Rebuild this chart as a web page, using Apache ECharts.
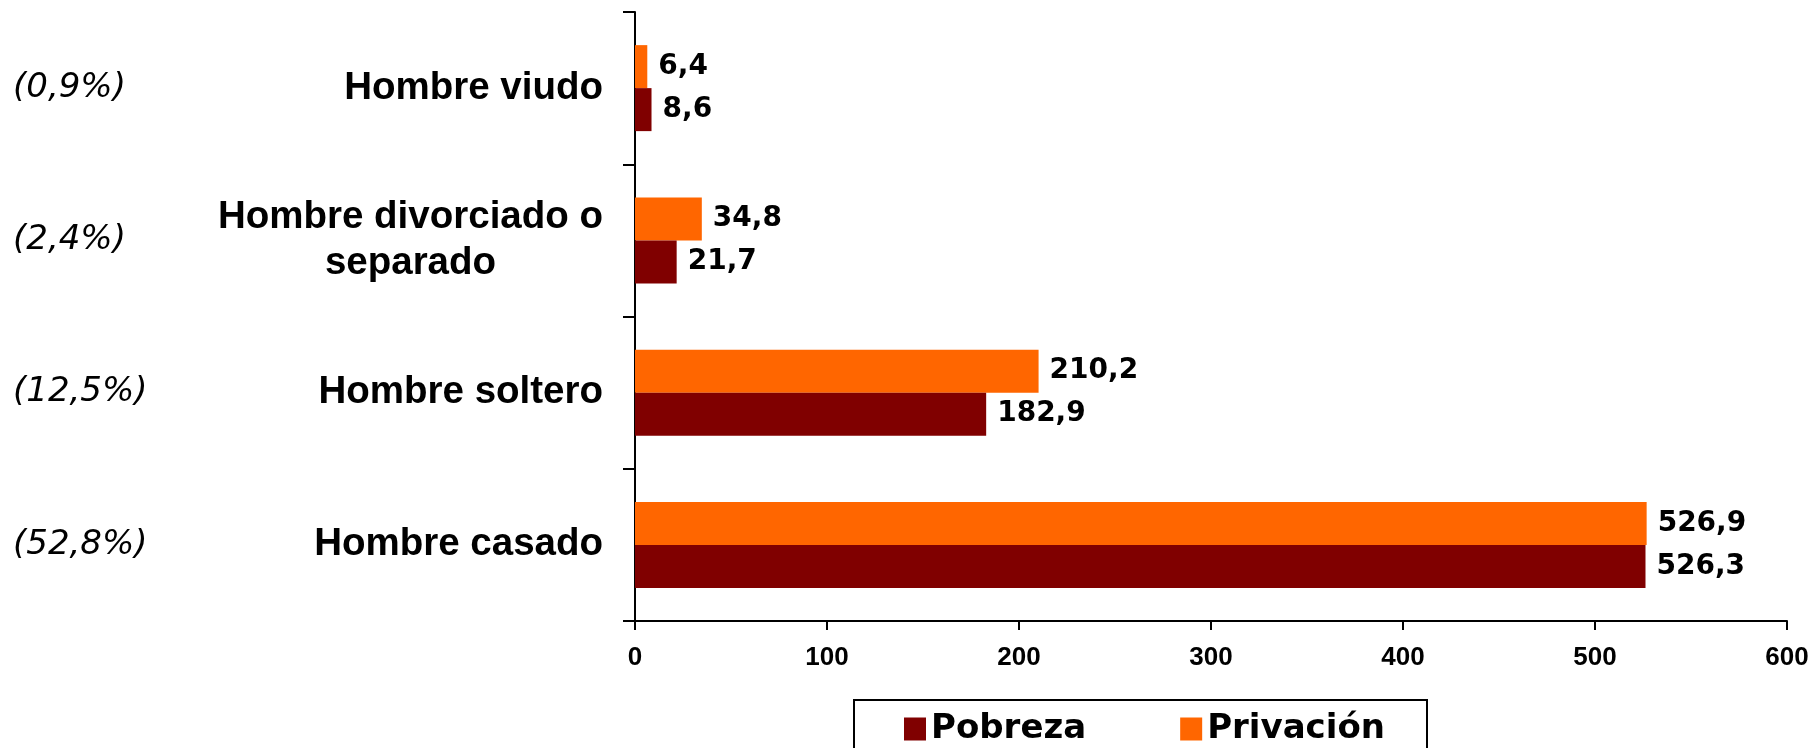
<!DOCTYPE html>
<html>
<head>
<meta charset="utf-8">
<script src="https://cdn.jsdelivr.net/npm/echarts@6/dist/echarts.min.js"></script>
<style>
  html, body { margin: 0; padding: 0; background: #fff; }
  #chart { width: 1814px; height: 748px; }
</style>
</head>
<body>
<div id="chart"></div>
<script>
// categories listed bottom to top (value axis is horizontal)
const categories = ['Hombre casado', 'Hombre soltero', 'Hombre divorciado o\nseparado', 'Hombre viudo'];
const shares = ['(52,8%)', '(12,5%)', '(2,4%)', '(0,9%)'];
const pobreza = [526.3, 182.9, 21.7, 8.6];
const privacion = [526.9, 210.2, 34.8, 6.4];
const xMin = 0, xMax = 600, xStep = 100;

const arial = '"Liberation Sans", Arial, sans-serif';
const verdana = '"DejaVu Sans", Verdana, sans-serif';

let myChart = echarts.init(document.getElementById('chart'));

const valueLabel = {
  show: true,
  position: 'right',
  distance: 11,
  color: '#000',
  fontFamily: verdana,
  fontWeight: 'bold',
  fontSize: 28,
  formatter: p => String(p.value).replace('.', ','),
};

myChart.setOption({
  animation: false,
  grid: { left: 635, right: 27, top: 12, bottom: 127 },
  // marco de la leyenda
  graphic: [{
    type: 'rect',
    shape: { x: 854, y: 700, width: 573, height: 60 },
    style: { fill: '#fff', stroke: '#000', lineWidth: 2 },
    z: 0,
  }],
  legend: {
    data: ['Pobreza', 'Privación'],
    left: 904,
    top: 712,
    padding: 0,
    icon: 'rect',
    itemWidth: 22,
    itemHeight: 23,
    itemGap: 94,
    textStyle: { fontFamily: verdana, fontWeight: 'bold', fontSize: 34, color: '#000' },
    z: 5,
  },
  xAxis: {
    type: 'value',
    min: xMin,
    max: xMax,
    interval: xStep,
    splitLine: { show: false },
    axisLine: { show: true, lineStyle: { color: '#000', width: 2 } },
    axisTick: { show: true, length: 9, lineStyle: { color: '#000', width: 2 } },
    axisLabel: { margin: 24, color: '#000', fontFamily: arial, fontWeight: 'bold', fontSize: 26 },
  },
  yAxis: [{
    type: 'category',
    data: categories,
    axisLine: { show: true, lineStyle: { color: '#000', width: 2 } },
    axisTick: { show: true, length: 12, lineStyle: { color: '#000', width: 2 } },
    axisLabel: {
      margin: 32,
      align: 'right',
      formatter: v => v.split('\n').map(s => '{c|' + s + '}').join('\n'),
      rich: {
        c: { fontFamily: arial, fontWeight: 'bold', fontSize: 38.5, color: '#000', align: 'center', lineHeight: 46 },
      },
    },
  }, {
    type: 'category',
    data: shares,
    position: 'left',
    offset: 622,
    axisLine: { show: false },
    axisTick: { show: false },
    axisLabel: {
      margin: 0,
      align: 'left',
      color: '#000',
      fontFamily: verdana,
      fontStyle: 'italic',
      fontSize: 34,
    },
  }],
  // Privación goes first so it sits above Pobreza in each group
  series: [{
    name: 'Privación',
    type: 'bar',
    data: privacion,
    barWidth: 43,
    barGap: '0%',
    itemStyle: { color: '#FF6600' },
    label: valueLabel,
  }, {
    name: 'Pobreza',
    type: 'bar',
    data: pobreza,
    barWidth: 43,
    barGap: '0%',
    itemStyle: { color: '#800000' },
    label: valueLabel,
  }],
});
</script>
</body>
</html>
